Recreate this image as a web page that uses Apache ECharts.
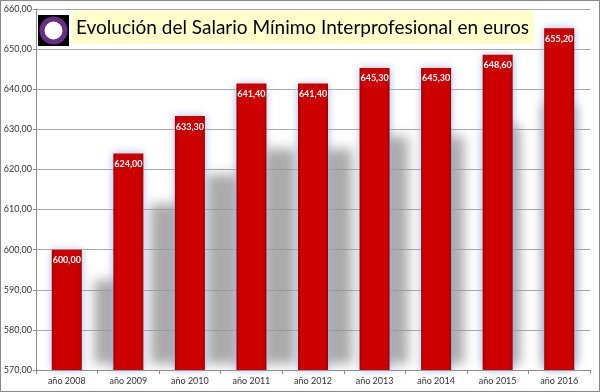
<!DOCTYPE html>
<html><head><meta charset="utf-8">
<script src="https://cdn.jsdelivr.net/npm/echarts@6/dist/echarts.min.js"></script>
<style>html,body{margin:0;padding:0;background:#fff}#c{width:600px;height:392px;position:absolute;left:0;top:0}#b{position:absolute;left:0;top:0;width:600px;height:392px;box-sizing:border-box;border:1px solid #8a8a8a;pointer-events:none}</style>
</head><body><div id="c"></div><div id="b"></div>
<script>
const categories = ['año 2008','año 2009','año 2010','año 2011','año 2012','año 2013','año 2014','año 2015','año 2016'];
const values = [600.00, 624.00, 633.30, 641.40, 641.40, 645.30, 645.30, 648.60, 655.20];
const yMin = 570, yMax = 660, yStep = 10;
const titleText = 'Evolución del Salario Mínimo Interprofesional en euros';
const fmt = v => Number(v).toFixed(2).replace('.', ',');

const chart = echarts.init(document.getElementById('c'), null, {renderer:'canvas'});
chart.setOption({
  animation:false,
  backgroundColor:'#fff',
  grid:{left:36, right:10, top:9, bottom:22, containLabel:false},
  title:{
    text:titleText, left:72, top:11,
    padding:[7,5,7,4],
    backgroundColor:'#ffffcc',
    textStyle:{fontFamily:'Lato', fontSize:19, fontWeight:'normal', color:'#000'}
  },
  graphic:[
    {type:'rect', left:38, top:15, shape:{width:31, height:31}, style:{fill:'#000'}, z:10},
    {type:'circle', shape:{cx:53.5, cy:30.5, r:11.5}, style:{fill:'#fff', stroke:'#6b2e86', lineWidth:5}, z:11}
  ],
  xAxis:{
    type:'category', data:categories,
    axisLine:{lineStyle:{color:'#8c8c8c'}},
    axisTick:{show:true, length:4, lineStyle:{color:'#8c8c8c'}},
    axisLabel:{fontFamily:'Lato', fontSize:9, color:'#333', margin:7}
  },
  yAxis:{
    type:'value', min:yMin, max:yMax, interval:yStep,
    axisLine:{show:true, lineStyle:{color:'#8c8c8c'}},
    axisTick:{show:true, length:3, lineStyle:{color:'#8c8c8c'}},
    splitLine:{lineStyle:{color:'#a8a8a8'}},
    axisLabel:{fontFamily:'Lato', fontSize:9, color:'#333', margin:4, formatter:fmt}
  },
  series:[
    {
      type:'custom', z:1, silent:true,
      data: values.map((v,i)=>[i,v]),
      renderItem(params, api){
        const idx = api.value(0), v = api.value(1);
        const top = api.coord([idx, v]);
        const base = api.coord([idx, yMin]);
        const lastX = api.coord([categories.length-1, yMin])[0];
        const h = (base[1]-top[1])*0.79;
        const w = 34;
        const cx = top[0] + (lastX - top[0])*0.09;
        const off = 3000;
        return {type:'rect',
          shape:{x:cx - w/2 - off, y:base[1]-h+5, width:w, height:h-11},
          style:{fill:'#999', shadowBlur:12, shadowColor:'rgba(150,150,150,0.8)', shadowOffsetX:off, shadowOffsetY:0}};
      }
    },
    {
      type:'bar', z:2, data:values, barWidth:30,
      itemStyle:{
        color:new echarts.graphic.LinearGradient(0,0,1,0,[
          {offset:0,color:'#a00000'},{offset:0.1,color:'#cc0000'},
          {offset:0.9,color:'#cc0000'},{offset:1,color:'#a00000'}]),
        shadowColor:'rgba(150,180,225,0.9)', shadowBlur:8
      },
      label:{show:true, position:'insideTop', distance:6, formatter:p=>fmt(p.value),
        fontFamily:'Lato', fontSize:9, fontWeight:'bold', color:'#fff'}
    }
  ]
});
</script></body></html>
